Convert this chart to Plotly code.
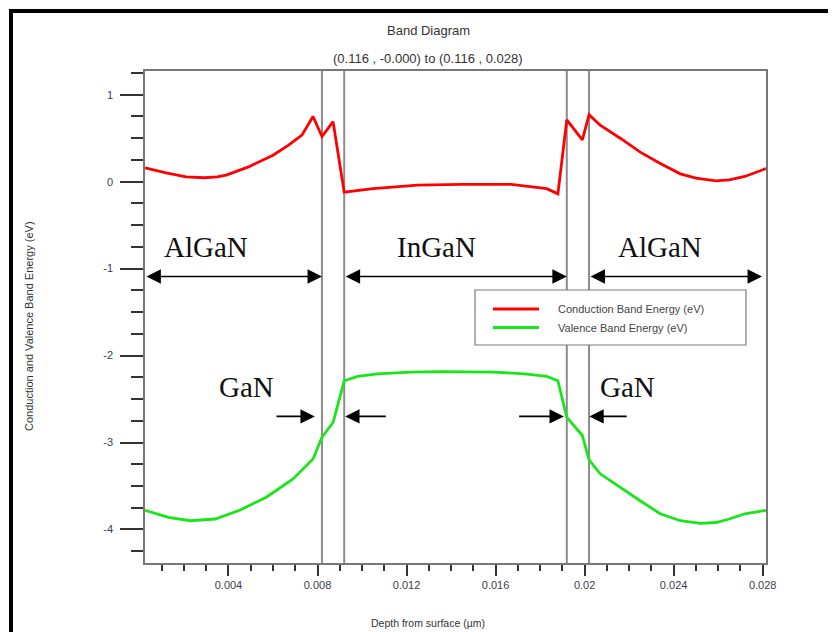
import plotly.graph_objects as go

# ---------------- data ----------------
depth_cb = [0.00025, 0.0012, 0.0021, 0.0029, 0.0035, 0.0039, 0.0049, 0.0060, 0.0067, 0.0073,
            0.0078, 0.0082, 0.0087, 0.0092, 0.0105, 0.0125, 0.0145, 0.0167, 0.0183, 0.0188,
            0.0192, 0.0199, 0.0202, 0.0207, 0.0216, 0.0225, 0.0234, 0.0243, 0.0250, 0.0259,
            0.0265, 0.0272, 0.02815]
cb_energy = [0.16, 0.10, 0.055, 0.045, 0.055, 0.075, 0.17, 0.305, 0.42, 0.535,
             0.75, 0.52, 0.69, -0.12, -0.08, -0.04, -0.03, -0.03, -0.08, -0.14,
             0.71, 0.48, 0.77, 0.65, 0.50, 0.34, 0.21, 0.09, 0.04, 0.01,
             0.02, 0.06, 0.15]

depth_vb = [0.00025, 0.0013, 0.0023, 0.0034, 0.0045, 0.0057, 0.0069, 0.0078, 0.0082, 0.0087,
            0.0092, 0.0098, 0.0107, 0.0122, 0.0135, 0.0159, 0.0173, 0.0183, 0.0188, 0.0192,
            0.0199, 0.0202, 0.0207, 0.0216, 0.0225, 0.0234, 0.0243, 0.0252, 0.0259, 0.0265,
            0.0272, 0.02815]
vb_energy = [-3.78, -3.86, -3.90, -3.88, -3.78, -3.63, -3.42, -3.19, -2.94, -2.77,
             -2.29, -2.24, -2.21, -2.19, -2.185, -2.19, -2.21, -2.24, -2.29, -2.71,
             -2.92, -3.20, -3.36, -3.52, -3.67, -3.82, -3.90, -3.93, -3.92, -3.88,
             -3.82, -3.78]

layer_edges = [0.0082, 0.0092, 0.0192, 0.0202]
region_labels = ["AlGaN", "InGaN", "AlGaN"]
region_label_x = [0.0030, 0.01333, 0.02339]
gan_label_x = [0.00479, 0.02194]
y_tick_vals = [1, 0, -1, -2, -3, -4]
y_tick_text = ["1", "0", "-1", "-2", "-3", "-4"]
series_names = ["Conduction Band Energy (eV)", "Valence Band Energy (eV)"]
series_colors = ["#ff0000", "#19e619"]

X_RANGE = [0.00025, 0.02815]
Y_RANGE = [-4.386, 1.273]

# the page body has an 8 px margin: size the figure so the plot lands where the reference has it
OFF = 8
W, H = 836 - OFF, 632 - OFF
ML, MT = 145 - OFF, 71 - OFF
MR, MB = 70, 69
PW, PH = W - ML - MR, H - MT - MB


def px(xp):  # reference pixel x -> paper
    return (xp - 145) / PW


def py(yp):  # reference pixel y -> paper
    return (563 - yp) / PH


fig = go.Figure()
fig.add_trace(go.Scatter(x=depth_cb, y=cb_energy, mode="lines", name=series_names[0],
                         line=dict(color=series_colors[0], width=2.8)))
fig.add_trace(go.Scatter(x=depth_vb, y=vb_energy, mode="lines", name=series_names[1],
                         line=dict(color=series_colors[1], width=2.8)))

shapes = []
for e in layer_edges:
    shapes.append(dict(type="line", xref="x", yref="paper", x0=e, x1=e, y0=0, y1=1,
                       line=dict(color="#8c8c8c", width=2), layer="below"))
# black outer frame (top & left)
shapes.append(dict(type="line", xref="paper", yref="paper", x0=px(9), x1=px(845),
                   y0=py(11), y1=py(11), line=dict(color="black", width=4)))
shapes.append(dict(type="line", xref="paper", yref="paper", x0=px(11), x1=px(11),
                   y0=py(9), y1=py(645), line=dict(color="black", width=4)))
# legend box
shapes.append(dict(type="rect", xref="paper", yref="paper", x0=px(475), x1=px(746),
                   y0=py(345), y1=py(290), fillcolor="white",
                   line=dict(color="#7a7a7a", width=1.2), layer="above"))
for i, yy in enumerate([309, 327.5]):
    shapes.append(dict(type="line", xref="paper", yref="paper", x0=px(493), x1=px(539),
                       y0=py(yy), y1=py(yy), line=dict(color=series_colors[i], width=2.8),
                       layer="above"))

txt = dict(family="Liberation Sans", color="#333")
annotations = []
annotations.append(dict(text="Band Diagram", xref="paper", yref="paper", x=px(428), y=py(30),
                        xanchor="center", yanchor="middle", showarrow=False,
                        font=dict(size=13, **txt)))
annotations.append(dict(text="(0.116 , -0.000) to (0.116 , 0.028)", xref="paper", yref="paper",
                        x=px(428), y=py(58), xanchor="center", yanchor="middle", showarrow=False,
                        font=dict(size=13, **txt)))
annotations.append(dict(text="Depth from surface (µm)", xref="paper", yref="paper",
                        x=px(428), y=py(623), xanchor="center", yanchor="middle", showarrow=False,
                        font=dict(size=10.5, **txt)))
annotations.append(dict(text="Conduction and Valence Band Energy (eV)", xref="paper", yref="paper",
                        x=px(29), y=py(326), xanchor="center", yanchor="middle",
                        showarrow=False, textangle=-90, font=dict(size=11, **txt)))
for i, yy in enumerate([309, 327.5]):
    annotations.append(dict(text=series_names[i], xref="paper", yref="paper", x=px(556),
                            y=py(yy), xanchor="left", yanchor="middle", showarrow=False,
                            font=dict(size=11, color="#444", family="Liberation Sans")))
for lab, lx in zip(region_labels, region_label_x):
    annotations.append(dict(text=lab, x=lx, y=-0.751, xref="x", yref="y", showarrow=False,
                            xanchor="center", yanchor="middle",
                            font=dict(size=29, color="#111", family="Liberation Serif")))
for lx in gan_label_x:
    annotations.append(dict(text="GaN", x=lx, y=-2.367, xref="x", yref="y", showarrow=False,
                            xanchor="center", yanchor="middle",
                            font=dict(size=29, color="#111", family="Liberation Serif")))

arrow_style = dict(showarrow=True, text="", xref="x", yref="y", axref="x", ayref="y",
                   arrowhead=2, arrowsize=1.8, arrowwidth=1.6, arrowcolor="black",
                   standoff=0, startstandoff=0)
y_top = -1.09
spans = [(X_RANGE[0], layer_edges[0]), (layer_edges[1], layer_edges[2]),
         (layer_edges[3], 0.02797)]
for a, b in spans:
    annotations.append(dict(x=b, y=y_top, ax=a, ay=y_top, arrowside="end+start",
                            startarrowhead=2, startarrowsize=1.8, **arrow_style))
y_gan = -2.70
gan_arrows = [(0.00609, 0.00788), (0.01114, 0.00924), (0.01699, 0.01907), (0.02196, 0.02021)]
for tail, tip in gan_arrows:
    annotations.append(dict(x=tip, y=y_gan, ax=tail, ay=y_gan, **arrow_style))

tickfont = dict(size=11, color="#3c3c50", family="Liberation Sans")
fig.update_layout(
    width=W, height=H,
    margin=dict(l=ML, r=MR, t=MT, b=MB),
    paper_bgcolor="white", plot_bgcolor="white",
    showlegend=False,
    shapes=shapes, annotations=annotations,
    xaxis=dict(range=X_RANGE, showgrid=False, zeroline=False, showline=True,
               linecolor="#777", linewidth=1.5, mirror=True,
               ticks="outside", ticklen=11, tickwidth=2, tickcolor="#333",
               tick0=0, dtick=0.004, tickfont=tickfont,
               minor=dict(ticks="outside", tick0=0, dtick=0.001, ticklen=6,
                          tickwidth=1.5, tickcolor="#333", showgrid=False)),
    yaxis=dict(range=Y_RANGE, showgrid=False, zeroline=False, showline=True,
               linecolor="#777", linewidth=1.5, mirror=True,
               ticks="outside", ticklen=23, tickwidth=2, tickcolor="#333",
               tickmode="array", tickvals=y_tick_vals, ticktext=y_tick_text,
               tickfont=tickfont, ticklabelstandoff=5,
               minor=dict(ticks="outside", tickmode="linear", tick0=0, dtick=0.25,
                          ticklen=12, tickwidth=1.5, tickcolor="#333", showgrid=False)),
)

fig.write_html("out.html")
